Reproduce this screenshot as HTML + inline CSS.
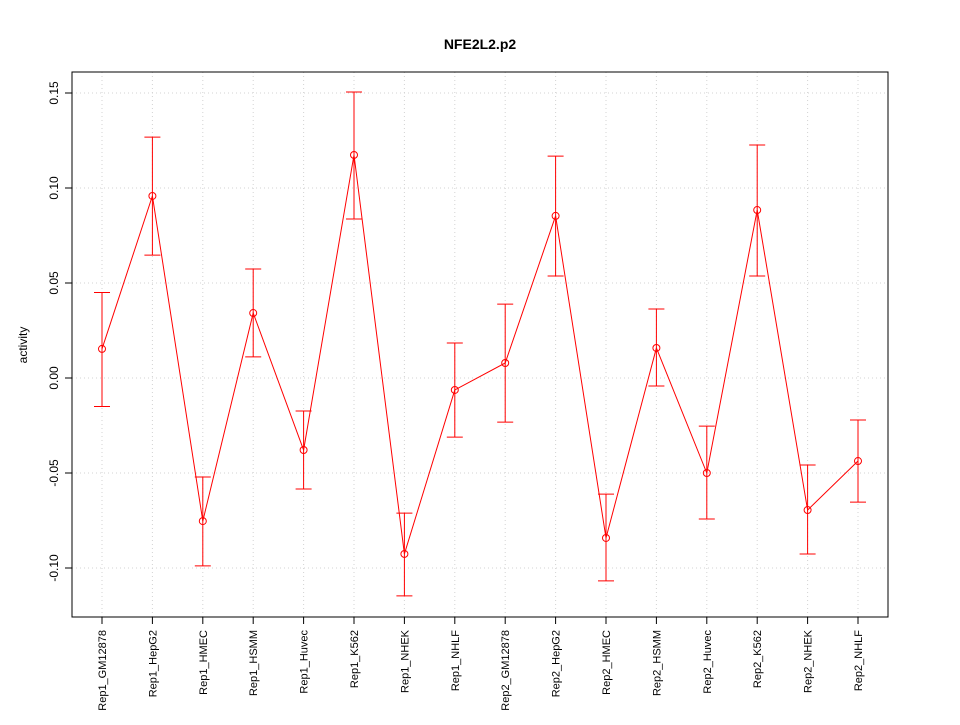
<!DOCTYPE html>
<html><head><meta charset="utf-8"><style>
body{margin:0;background:#fff;}
text{font-family:"Liberation Sans",sans-serif;}
</style></head><body>
<svg id="chart" width="960" height="720" xmlns="http://www.w3.org/2000/svg">
<rect width="960" height="720" fill="#fff"/>
<text x="480" y="49" text-anchor="middle" font-size="14" font-weight="bold">NFE2L2.p2</text>
<text transform="translate(27,345) rotate(-90)" text-anchor="middle" font-size="12">activity</text>
<g id="grid"></g><g id="axes"></g><g id="marks"></g>
<rect x="72" y="72" width="816" height="545" fill="none" stroke="#000"/>
</svg>
<script>
const categories=["Rep1_GM12878","Rep1_HepG2","Rep1_HMEC","Rep1_HSMM","Rep1_Huvec","Rep1_K562","Rep1_NHEK","Rep1_NHLF","Rep2_GM12878","Rep2_HepG2","Rep2_HMEC","Rep2_HSMM","Rep2_Huvec","Rep2_K562","Rep2_NHEK","Rep2_NHLF"];
const values=[0.0153,0.0958,-0.0753,0.0342,-0.0379,0.1174,-0.0926,-0.0063,0.0079,0.0853,-0.0842,0.0158,-0.05,0.0884,-0.0695,-0.0437];
const upper=[0.045,0.1268,-0.0521,0.0574,-0.0174,0.1505,-0.0711,0.0184,0.0389,0.1168,-0.0611,0.0363,-0.0253,0.1226,-0.0458,-0.0221];
const lower=[-0.015,0.0647,-0.0989,0.0111,-0.0584,0.0837,-0.1147,-0.0311,-0.0232,0.0537,-0.1068,-0.0042,-0.0742,0.0537,-0.0926,-0.0653];
const yTicks=[-0.10,-0.05,0.00,0.05,0.10,0.15];
const yTickLabels=["-0.10","-0.05","0.00","0.05","0.10","0.15"];
const NS="http://www.w3.org/2000/svg";
function y(v){return 378-1900*v;}
function x(i){return 102+i*(858-102)/(categories.length-1);}
function mk(parent,tag,attrs){const e=document.createElementNS(NS,tag);for(const k in attrs)e.setAttribute(k,attrs[k]);document.getElementById(parent).appendChild(e);return e;}
yTicks.forEach((t,i)=>{
  let g=mk('grid','line',{x1:72,x2:888,y1:y(t),y2:y(t),stroke:'#d3d3d3','stroke-dasharray':'1,3'});
  
  
  let tk=mk('axes','line',{x1:65,x2:72,y1:y(t),y2:y(t),stroke:'#000'});
  
  
  let lb=mk('axes','text',{transform:`translate(58,${y(t)}) rotate(-90)`,'text-anchor':'middle','font-size':'12'});
  lb.textContent=yTickLabels[i];
  
  
});
categories.forEach((c,i)=>{
  let g=mk('grid','line',{x1:x(i),x2:x(i),y1:72,y2:617,stroke:'#d3d3d3','stroke-dasharray':'1,3'});
  
  
  let tk=mk('axes','line',{x1:x(i),x2:x(i),y1:617,y2:624,stroke:'#000'});
  
  
  let lb=mk('axes','text',{transform:`translate(${x(i)+4},630) rotate(-90)`,'text-anchor':'end','font-size':'11'});
  lb.textContent=c;
  
  
});
let pts=values.map((v,i)=>x(i)+','+y(v)).join(' ');
let pl=mk('marks','polyline',{points:pts,fill:'none',stroke:'#f00'});


values.forEach((v,i)=>{
  let eb=mk('marks','path',{d:`M${x(i)},${y(upper[i])}V${y(lower[i])}M${x(i)-8},${y(upper[i])}H${x(i)+8}M${x(i)-8},${y(lower[i])}H${x(i)+8}`,stroke:'#f00',fill:'none'});
  
  
  let c=mk('marks','circle',{cx:x(i),cy:y(v),r:3.5,fill:'none',stroke:'#f00'});
  
  
});
</script>
</body></html>
